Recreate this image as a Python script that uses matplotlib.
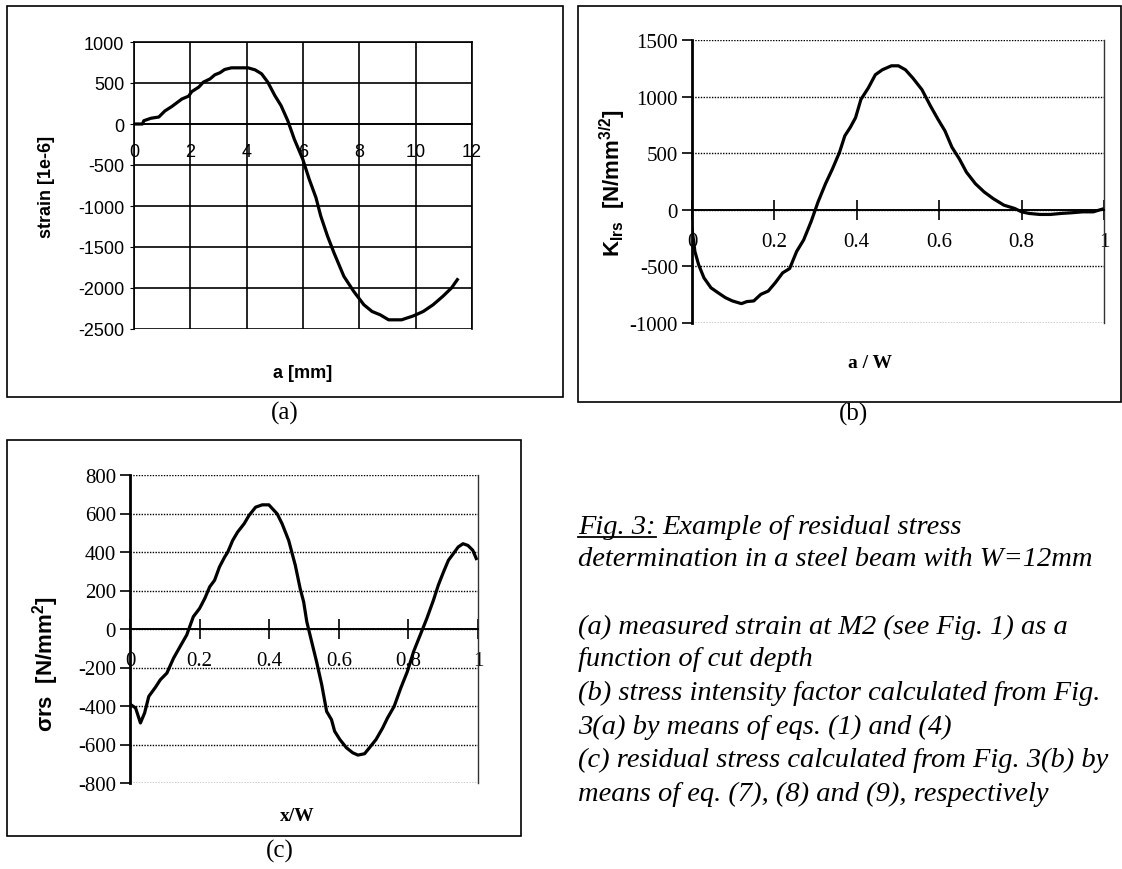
import matplotlib
matplotlib.use('Agg')
import matplotlib.pyplot as plt
from matplotlib.patches import Rectangle
from matplotlib.lines import Line2D
import numpy as np

plt.rcParams['mathtext.fontset'] = 'custom'
plt.rcParams['mathtext.rm'] = 'Liberation Sans:bold'
plt.rcParams['mathtext.bf'] = 'Liberation Sans:bold'
plt.rcParams['mathtext.default'] = 'rm'
plt.rcParams['axes.unicode_minus'] = False

# (a) measured strain vs cut depth
a_mm = [0.05, 0.3, 0.35, 0.6, 0.88, 1.1, 1.35, 1.7, 1.94, 2.05, 2.3, 2.46, 2.7, 2.87,
        3.05, 3.22, 3.46, 4.05, 4.3, 4.53, 4.75, 5.0, 5.22, 5.46, 5.69, 5.99, 6.22,
        6.46, 6.63, 6.87, 7.1, 7.45, 7.8, 8.16, 8.45, 8.74, 9.04, 9.5, 9.92, 10.27,
        10.62, 10.97, 11.27, 11.48]
strain = [0, 0, 40, 70, 85, 160, 215, 305, 340, 395, 450, 510, 550, 600,
          625, 665, 685, 685, 660, 612, 510, 347, 225, 40, -184, -428, -673,
          -898, -1122, -1367, -1571, -1857, -2041, -2204, -2286, -2327, -2388, -2388, -2340, -2286,
          -2204, -2100, -2000, -1898]

# (b) stress intensity factor vs a/W
aw = [0.0, 0.007, 0.016, 0.029, 0.046, 0.063, 0.081, 0.098, 0.12, 0.133, 0.15, 0.167,
      0.185, 0.202, 0.22, 0.237, 0.254, 0.271, 0.289, 0.306, 0.324, 0.341, 0.358,
      0.371, 0.384, 0.397, 0.41, 0.428, 0.445, 0.462, 0.484, 0.501, 0.518, 0.536,
      0.558, 0.579, 0.597, 0.614, 0.631, 0.649, 0.666, 0.688, 0.709, 0.731, 0.757,
      0.783, 0.8, 0.818, 0.844, 0.87, 0.896, 0.922, 0.948, 0.974, 0.996]
k_irs = [-163, -368, -484, -601, -689, -732, -776, -805, -829, -811, -805, -747,
         -718, -645, -557, -519, -368, -266, -105, 70, 230, 362, 508,
         654, 727, 814, 975, 1077, 1193, 1237, 1272, 1272, 1237, 1164,
         1062, 916, 800, 697, 552, 449, 333, 230, 158, 99, 41,
         12, -18, -32, -41, -41, -32, -26, -18, -18, 6]

# (c) residual stress vs x/W
xw = [0.002, 0.016, 0.03, 0.042, 0.054, 0.073, 0.087, 0.106, 0.125, 0.144, 0.163, 0.182,
      0.2, 0.215, 0.229, 0.243, 0.257, 0.272, 0.281, 0.295, 0.309, 0.328, 0.342, 0.361,
      0.38, 0.399, 0.423, 0.437, 0.456, 0.475, 0.489, 0.499, 0.508, 0.522, 0.536, 0.551,
      0.565, 0.579, 0.588, 0.603, 0.622, 0.64, 0.655, 0.674, 0.688, 0.707, 0.726, 0.74,
      0.759, 0.778, 0.797, 0.815, 0.834, 0.853, 0.872, 0.886, 0.901, 0.915, 0.929, 0.943,
      0.957, 0.971, 0.985, 0.995]
sigma_rs = [-393, -410, -488, -436, -350, -303, -264, -229, -152, -91, -31, 64,
            107, 159, 219, 253, 322, 374, 400, 460, 503, 547, 590, 633,
            645, 645, 598, 547, 460, 331, 210, 141, 38, -66, -169, -290,
            -428, -471, -531, -574, -617, -643, -655, -648, -617, -574, -514, -462,
            -402, -307, -221, -117, -31, 55, 150, 228, 297, 357, 391, 426,
            443, 434, 409, 366]

ticks_a_x = [0, 2, 4, 6, 8, 10, 12]
ticks_a_y = [1000, 500, 0, -500, -1000, -1500, -2000, -2500]
ticks_b_x = [0, 0.2, 0.4, 0.6, 0.8, 1]
ticks_b_y = [1500, 1000, 500, 0, -500, -1000]
ticks_c_y = [800, 600, 400, 200, 0, -200, -400, -600, -800]

caption = [
    "determination in a steel beam with W=12mm",
    "",
    "(a) measured strain at M2 (see Fig. 1) as a",
    "function of cut depth",
    "(b) stress intensity factor calculated from Fig.",
    "3(a) by means of eqs. (1) and (4)",
    "(c) residual stress calculated from Fig. 3(b) by",
    "means of eq. (7), (8) and (9), respectively",
]

W, H = 1122, 870
fig = plt.figure(figsize=(W / 100, H / 100), dpi=100)


def px_axes(l, r, t, b):
    return fig.add_axes([l / W, 1 - b / H, (r - l) / W, (b - t) / H])


def px_box(l, r, t, b):
    fig.add_artist(Rectangle((l / W, 1 - b / H), (r - l) / W, (b - t) / H,
                             transform=fig.transFigure, fill=False,
                             edgecolor='black', lw=1.2))


def fmt_tick(v):
    return '%g' % v


# outer boxes
px_box(7, 563, 7, 398)
px_box(578, 1121, 7, 403)
px_box(7, 521, 441, 837)

# ---------- (a) ----------
ax1 = px_axes(134, 472, 43, 330)
ax1.plot(a_mm, strain, color='black', lw=2.3)
ax1.set_xlim(0, 12)
ax1.set_ylim(-2500, 1000)
ax1.set_xticks(ticks_a_x)
ax1.set_yticks(ticks_a_y)
ax1.grid(True, color='black', lw=1.2)
ax1.set_axisbelow(True)
ax1.spines['bottom'].set_position(('data', 0))
for s in ax1.spines.values():
    s.set_linewidth(1.2)
ax1.tick_params(axis='x', length=0, pad=14, labelsize=13)
ax1.tick_params(axis='y', length=3, pad=4, labelsize=13)
for lab in ax1.get_xticklabels() + ax1.get_yticklabels():
    lab.set_fontfamily('Liberation Sans')
ax1.set_xlabel('a [mm]', fontsize=13, fontweight='bold', family='Liberation Sans')
ax1.xaxis.set_label_coords(0.5, -0.122)
ax1.set_ylabel('strain [1e-6]', fontsize=13, fontweight='bold', family='Liberation Sans')
ax1.yaxis.set_label_coords(-0.235, 0.5)


def excel_style(ax, xticks, yticks, ylim):
    ax.set_xlim(0, 1)
    ax.set_ylim(*ylim)
    ax.set_xticks(xticks)
    ax.set_xticklabels([fmt_tick(v) for v in xticks])
    ax.set_yticks(yticks)
    ax.yaxis.grid(True, color='black', lw=1.0, linestyle=(0, (1.0, 1.0)))
    ax.set_axisbelow(True)
    ax.spines['bottom'].set_position(('data', 0))
    ax.spines['bottom'].set_linewidth(1.4)
    ax.spines['top'].set_visible(False)
    ax.spines['left'].set_linewidth(2.0)
    ax.spines['right'].set_linewidth(1.0)
    ax.spines['right'].set_color('#333333')
    ax.tick_params(axis='x', direction='inout', length=14, width=1.2, pad=9, labelsize=15)
    ax.tick_params(axis='y', direction='out', length=7, width=1.2, pad=3, labelsize=15)
    for lab in ax.get_xticklabels() + ax.get_yticklabels():
        lab.set_fontfamily('Liberation Serif')


# ---------- (b) ----------
ax2 = px_axes(692, 1104, 41, 324)
ax2.plot(aw, k_irs, color='black', lw=2.3)
excel_style(ax2, ticks_b_x, ticks_b_y, (-1000, 1500))
ax2.set_xlabel('a / W', fontsize=14, fontweight='bold', family='Liberation Serif')
ax2.xaxis.set_label_coords(0.432, -0.11)
ax2.set_ylabel(r'K$_{\mathrm{Irs}}$  [N/mm$^{\mathrm{3/2}}$]', fontsize=16,
               fontweight='bold', family='Liberation Sans')
ax2.yaxis.set_label_coords(-0.155, 0.5)

# ---------- (c) ----------
ax3 = px_axes(130, 478, 476, 784)
ax3.plot(xw, sigma_rs, color='black', lw=2.3)
excel_style(ax3, ticks_b_x, ticks_c_y, (-800, 800))
ax3.set_xlabel('x/W', fontsize=14, fontweight='bold', family='Liberation Serif')
ax3.xaxis.set_label_coords(0.48, -0.078)
ax3.set_ylabel(r'σrs  [N/mm$^{\mathrm{2}}$]', fontsize=16,
               fontweight='bold', family='Liberation Sans')
ax3.yaxis.set_label_coords(-0.197, 0.39)

# panel letters
for lab, (x, y) in zip(['(a)', '(b)', '(c)'], [(285, 413), (853, 414), (280, 851)]):
    fig.text(x / W, 1 - y / H, lab, ha='center', va='center', fontsize=18,
             family='Liberation Serif')

# caption
cap_x = 578 / W
cap_fs = 20.5
t_fig = fig.text(cap_x, 1 - 528 / H, 'Fig. 3:', ha='left', va='center', fontsize=cap_fs,
                 family='Liberation Serif', style='italic')
fig.canvas.draw()
bb = t_fig.get_window_extent().transformed(fig.transFigure.inverted())
fig.add_artist(Line2D([bb.x0, bb.x1], [bb.y0 + 0.003, bb.y0 + 0.003],
                      transform=fig.transFigure, color='black', lw=1.3))
fig.text(bb.x1 + 0.006, 1 - 528 / H, 'Example of residual stress', ha='left', va='center',
         fontsize=cap_fs, family='Liberation Serif', style='italic')
line_y = [560, 594, 627, 660, 693, 727, 760, 794]
for txt, y in zip(caption, line_y):
    if txt:
        fig.text(cap_x, 1 - y / H, txt, ha='left', va='center', fontsize=cap_fs,
                 family='Liberation Serif', style='italic')

fig.savefig('out.png', dpi=100)
